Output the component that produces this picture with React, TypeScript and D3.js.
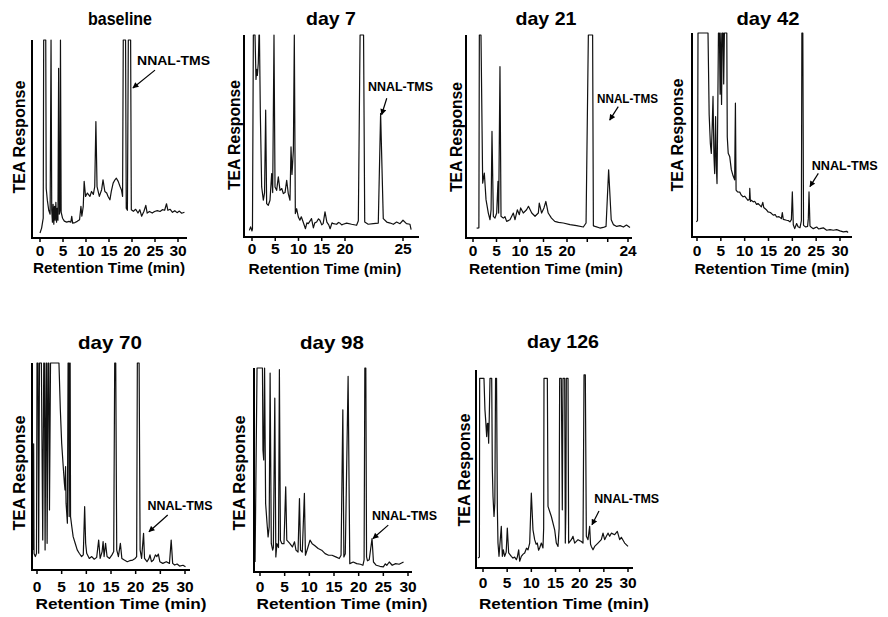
import React from "react";
import * as d3 from "d3";

type Pt = [number, number];

// [retention time (min), TEA response (% of panel height)]
const baselineTrace: Pt[] = [
  [0.0, 2.5], [0.35, 5], [0.7, 10], [0.8, 100], [1.25, 100], [1.35, 25], [1.6, 19], [1.9, 14], [2.2, 12],
  [2.4, 100], [2.55, 14], [2.7, 8], [2.85, 17], [3.0, 7], [3.15, 16], [3.3, 9], [3.45, 18], [3.6, 8],
  [3.75, 15], [3.9, 9], [4.05, 85.7], [4.2, 12], [4.35, 14], [4.45, 100], [4.6, 13], [4.9, 10], [5.3, 8.5],
  [5.8, 8], [6.3, 8.4], [6.7, 8], [6.9, 10.9], [7.1, 7.5], [7.6, 7.8], [8.1, 8.4], [8.6, 9.2], [8.9, 16],
  [9.1, 11], [9.4, 16], [9.6, 28.6], [9.9, 21], [10.3, 22.7], [10.85, 21], [11.2, 23.5], [11.6, 22],
  [11.9, 26], [12.15, 58.8], [12.4, 26], [12.9, 21], [13.4, 24.4], [13.7, 29.4], [14.1, 23.5], [14.5, 22.7],
  [14.8, 21], [15.2, 19.3], [15.5, 23.5], [15.9, 27.7], [16.3, 29.4], [16.6, 30.2], [17.0, 28.6], [17.4, 26],
  [17.7, 24.4], [17.95, 21], [18.1, 100], [18.6, 100], [18.75, 15], [19.0, 14], [19.2, 100], [19.7, 100],
  [19.85, 14.3], [20.3, 13.5], [20.8, 14.5], [21.3, 12.6], [21.7, 14.3], [22.1, 11], [22.6, 13.5], [23.0, 16.5],
  [23.3, 12.6], [23.8, 13.4], [24.4, 12.6], [24.9, 13.4], [25.5, 13.8], [26.1, 13.4], [26.6, 14.3], [27.1, 14],
  [27.5, 17.3], [27.8, 14], [28.3, 14.5], [28.8, 13], [29.3, 13.8], [29.8, 12.8], [30.3, 13.6], [30.8, 12.5],
  [31.4, 13],
];

const day7Trace: Pt[] = [
  [-0.57, 3.3], [-0.3, 5], [0.0, 3], [0.1, 4], [0.29, 100], [0.65, 100], [0.86, 78], [1.0, 83], [1.15, 80],
  [1.35, 86], [1.5, 100], [1.6, 100], [1.8, 60], [2.08, 24.8], [2.44, 18.2], [2.7, 22], [2.94, 62.8],
  [3.15, 16.5], [3.5, 15.7], [3.87, 18.2], [4.23, 31.4], [4.45, 22], [4.73, 100], [4.95, 24.8], [5.3, 23.1],
  [5.66, 29.8], [6.02, 23.1], [6.4, 24], [6.74, 21.5], [7.1, 22], [7.46, 28.1], [7.8, 21.5], [8.17, 18.2],
  [8.39, 44.6], [8.6, 31], [8.9, 43], [9.1, 100], [9.32, 11.6], [9.6, 14], [9.96, 9.9], [10.3, 8.3],
  [10.6, 10], [11.0, 7.4], [11.5, 4.1], [11.8, 7], [12.1, 6.6], [12.5, 8], [12.8, 9.1], [13.2, 4.5],
  [13.5, 7], [13.9, 7.4], [14.3, 9], [14.6, 8.3], [15.0, 6], [15.3, 6.6], [15.7, 12.4], [16.1, 7.4],
  [16.5, 6], [16.8, 4.1], [17.2, 7], [17.5, 6.6], [18.2, 6.3], [18.6, 7.2], [18.9, 6.9], [19.3, 6],
  [19.6, 6.3], [20.14, 6.9], [20.57, 6.3], [21.0, 5.8], [21.15, 8], [21.3, 100], [21.6, 100], [21.7, 7.4],
  [22.0, 6.3], [22.44, 6.6], [22.87, 6.9], [23.07, 61.2], [23.3, 9.1], [23.6, 7.4], [23.9, 6.9], [24.17, 6.3],
  [24.45, 7.4], [24.74, 6.6], [25.0, 8.3], [25.3, 6.6], [25.6, 6.3], [25.7, 3.6],
];

const day21Trace: Pt[] = [
  [0.78, 4.9], [1.25, 5], [1.35, 100], [1.7, 100], [2.06, 27], [2.41, 32], [2.77, 18.9], [3.26, 12.3],
  [3.62, 9], [3.85, 14], [4.04, 52.5], [4.33, 10.7], [4.68, 9.8], [5.04, 12.3], [5.32, 27.9], [5.46, 12.3],
  [5.74, 84.4], [5.96, 10.7], [6.45, 9.8], [6.8, 10.5], [7.16, 8.2], [7.87, 9], [8.58, 12.3], [8.94, 9],
  [9.43, 13.9], [9.86, 11.5], [10.14, 14.8], [10.7, 12.3], [11.4, 13.9], [11.8, 15.6], [12.5, 12.3],
  [13.2, 10.7], [13.9, 12.3], [14.1, 17.2], [14.6, 12.3], [15.1, 14.8], [15.5, 18], [16.0, 12.3], [16.7, 9.8],
  [17.4, 8.2], [18.2, 7.7], [19.2, 7.4], [20.2, 6.6], [20.63, 6.1], [21.07, 5.4], [21.25, 7.4], [21.4, 100],
  [21.68, 100], [21.73, 6], [21.84, 5.7], [22.16, 4.9], [22.38, 5.2], [22.56, 5.7], [22.73, 33.6], [22.9, 9],
  [23.04, 6.6], [23.26, 5.7], [23.48, 6.1], [23.7, 5.4], [23.9, 6.4], [24.13, 5.2],
];

const day42Trace: Pt[] = [
  [-0.14, 7.4], [0.1, 8], [0.21, 100], [2.31, 100], [2.55, 60], [2.8, 45.9], [3.0, 41], [3.2, 55],
  [3.36, 68.9], [3.55, 40], [3.71, 31.1], [3.9, 59], [4.05, 35], [4.2, 26.2], [4.35, 60], [4.5, 100],
  [4.7, 100], [4.85, 70], [5.0, 100], [5.15, 65], [5.3, 100], [5.5, 100], [5.6, 75], [5.75, 100], [6.25, 100],
  [6.35, 49], [6.55, 41], [6.87, 39.3], [7.2, 33], [7.57, 30], [7.9, 28], [8.06, 65.6], [8.2, 23], [8.5, 22.1],
  [8.97, 22], [9.3, 20.5], [9.67, 19.7], [10.0, 20], [10.37, 18.9], [10.7, 18], [11.0, 18.5], [11.07, 23.8],
  [11.2, 17.5], [11.4, 18], [11.8, 17.2], [12.1, 17.5], [12.5, 16], [12.8, 16.4], [13.2, 15.5], [13.5, 14.8],
  [13.8, 17], [14.0, 14.5], [14.5, 13.5], [14.9, 12.3], [15.4, 12], [16.0, 10.7], [16.4, 11], [16.7, 9.8],
  [17.2, 10], [17.7, 9], [17.9, 12], [18.1, 8.6], [18.8, 8.2], [19.2, 8], [19.5, 7.4], [19.8, 8.5],
  [20.0, 22.1], [20.2, 6], [20.5, 4.1], [20.9, 6.6], [21.2, 5], [21.6, 4.5], [21.9, 8], [22.0, 100],
  [22.2, 100], [22.35, 5.7], [22.8, 4.9], [23.2, 5.2], [23.35, 9], [23.5, 22.1], [23.7, 5.5], [23.9, 4.9],
  [24.4, 4.1], [25.1, 4.9], [25.5, 4], [25.8, 4.1], [26.5, 4.5], [27.2, 3.3], [27.9, 3.6], [28.6, 3.3],
  [29.3, 3.6], [30.0, 3], [30.7, 2.5], [31.4, 2.8], [31.7, 2.2],
];

const day70Trace: Pt[] = [
  [-0.75, 9.7], [-0.68, 61], [-0.6, 8], [-0.34, 6.5], [-0.1, 8], [0.0, 100], [0.2, 100], [0.34, 8.1],
  [0.5, 100], [0.89, 100], [1.16, 14.5], [1.37, 100], [1.5, 100], [1.64, 9.7], [1.85, 100], [1.95, 100],
  [2.05, 12.9], [2.26, 100], [2.4, 100], [2.53, 29], [2.74, 100], [4.45, 100], [4.73, 77.4], [5.0, 61.3],
  [5.27, 51.6], [5.55, 41.9], [5.68, 38.7], [5.79, 50], [5.89, 32.3], [6.16, 22.6], [6.3, 100], [6.44, 100],
  [6.52, 25.8], [6.64, 100], [6.72, 100], [6.8, 25.8], [7.05, 21], [7.33, 16.1], [7.74, 12.9], [8.15, 9.7],
  [8.56, 8.1], [9.04, 6.5], [9.38, 7.3], [9.66, 30.6], [9.86, 12.9], [10.07, 8.1], [10.6, 5.6], [11.1, 6.5],
  [11.6, 5.2], [12.1, 6.1], [12.5, 14.5], [12.8, 5.6], [13.2, 8.9], [13.4, 13.7], [13.6, 6.5], [13.9, 12.9],
  [14.2, 6.5], [14.7, 5.6], [15.2, 7.3], [15.55, 8.9], [15.75, 100], [15.96, 100], [16.16, 9.7], [16.5, 6.5],
  [16.9, 12.9], [17.2, 5.6], [17.7, 4.8], [18.3, 4], [18.8, 4.5], [19.4, 4.8], [19.9, 5.6], [20.2, 6.5],
  [20.34, 100], [20.7, 100], [20.9, 9.7], [21.2, 5.6], [21.6, 17.7], [21.8, 5.6], [22.3, 4], [22.7, 5.6],
  [22.9, 7.3], [23.2, 4], [23.6, 4.8], [24.0, 7.3], [24.3, 6.5], [24.6, 7.7], [24.9, 4], [25.5, 3.2],
  [26.2, 4], [26.85, 3.2], [27.2, 14.5], [27.5, 3.2], [27.9, 2.4], [28.4, 2.9], [28.9, 1.9], [29.6, 2.3],
  [30.1, 1.6],
];

const day98Trace: Pt[] = [
  [-1.0, 4.9], [-0.6, 100], [0.5, 100], [0.6, 59.8], [0.75, 54.9], [0.93, 100], [1.14, 33.6], [1.43, 23.8],
  [1.64, 17.2], [1.86, 22.1], [2.05, 97.5], [2.29, 13.9], [2.57, 10.7], [2.71, 12], [3.0, 85.2], [3.21, 7.4],
  [3.43, 13.9], [3.75, 12], [3.93, 99.2], [4.14, 15.6], [4.43, 13.9], [4.86, 13.9], [5.21, 41.8], [5.43, 15.6],
  [6.07, 13.9], [6.57, 12.3], [7.0, 14.8], [7.29, 10.7], [7.71, 9.8], [8.0, 36], [8.21, 10.7], [8.57, 9.8],
  [9.0, 38.5], [9.21, 8.2], [9.64, 11.5], [10.14, 15.6], [10.57, 13.9], [11.07, 13], [11.79, 11.5],
  [12.5, 10.7], [13.2, 9], [13.9, 8.2], [14.6, 8.2], [15.36, 7.4], [16.07, 6.6], [16.43, 8.2], [16.79, 79.5],
  [17.0, 7.4], [17.29, 9], [17.86, 95.9], [18.2, 4.1], [18.9, 4.9], [19.6, 4.1], [20.36, 3.8], [20.86, 3.3],
  [21.1, 6], [21.25, 100], [21.45, 100], [21.6, 7.4], [21.79, 5.5], [22.14, 6], [22.71, 16.4], [23.0, 4.9],
  [23.57, 3.3], [24.29, 2.8], [25.0, 2.5], [25.4, 4], [25.7, 3.3], [26.2, 4.9], [26.8, 3.3], [27.5, 4.1],
  [28.2, 3.8], [29.1, 4.9],
];

const day126Trace: Pt[] = [
  [-1.03, 5], [-0.75, 5.5], [-0.69, 95.8], [0.2, 95.8], [0.4, 80], [0.55, 74.8], [0.76, 66.4], [0.9, 73],
  [1.03, 73.1], [1.17, 63], [1.3, 76.5], [1.45, 95.8], [1.8, 95.8], [1.93, 50], [2.07, 36.1], [2.28, 26],
  [2.45, 32.8], [2.6, 95.8], [2.8, 95.8], [2.97, 30], [3.1, 12.6], [3.31, 5.9], [3.52, 12.6], [3.79, 21],
  [4.0, 5.9], [4.21, 9.2], [4.48, 5.9], [4.8, 8], [5.03, 20.2], [5.31, 7.6], [5.86, 5.9], [6.2, 5],
  [6.55, 5.5], [6.9, 4.2], [7.1, 5.5], [7.38, 9.2], [7.59, 3.4], [7.93, 5.9], [8.3, 7], [8.62, 7.6], [9.0, 10],
  [9.31, 9.2], [9.66, 12.6], [10.0, 37.8], [10.34, 19.3], [10.69, 14.3], [11.0, 12], [11.24, 12.6], [11.5, 9],
  [11.72, 10.1], [12.07, 12.6], [12.41, 10.1], [12.55, 20], [12.62, 95.8], [13.31, 95.8], [13.45, 31.1],
  [14.14, 26], [14.83, 19.3], [15.17, 12.6], [15.52, 10.9], [15.75, 20], [15.86, 95.8], [16.2, 95.8],
  [16.41, 29.4], [16.55, 95.8], [16.9, 95.8], [17.03, 12.6], [17.15, 30], [17.24, 95.8], [17.59, 95.8],
  [17.72, 12.6], [18.28, 14.3], [18.62, 16], [18.97, 12.6], [19.66, 14.3], [20.34, 13.4], [20.69, 12.6],
  [20.9, 97.5], [21.17, 97.5], [21.38, 16], [21.72, 14.3], [22.07, 21], [22.25, 12], [22.41, 10.9],
  [22.76, 9.2], [23.1, 10.9], [23.79, 12.6], [24.48, 14.3], [24.83, 17.6], [25.17, 14.3], [25.52, 16],
  [25.86, 17.6], [26.21, 16], [26.55, 17.6], [27.24, 16.8], [27.79, 18.5], [28.28, 14.3], [28.62, 15.5],
  [29.31, 12.6], [30.0, 10.9],
];

const panelTitles = ["baseline", "day 7", "day 21", "day 42", "day 70", "day 98", "day 126"];
const traces = [baselineTrace, day7Trace, day21Trace, day42Trace, day70Trace, day98Trace, day126Trace];
const fullTicks = [0, 5, 10, 15, 20, 25, 30];
const day7Ticks = [0, 5, 10, 15, 20, 25];
const day21Ticks = [0, 5, 10, 15, 20, 21.33, 22.67, 24];
const day21Labels = [0, 5, 10, 15, 20, 24];
const nnalLabel = "NNAL-TMS";
const xAxisTitle = "Retention Time (min)";
const yAxisTitle = "TEA Response";

// layout (pixels) and annotation anchors (data units)
type Layout = {
  x0: number; xEnd: number; yTop: number; yBot: number;
  dom: number[]; rng: number[]; ticks: number[]; labels: number[];
  tickY: number; ax: [number, number, number]; yl: [number, number, number];
  ti: [number, number, number];
  note: { at: Pt; from: Pt; to: Pt; len: number };
};

const layouts: Layout[] = [
  { x0: 32, xEnd: 187, yTop: 40, yBot: 238, dom: [0, 30], rng: [40, 178], ticks: fullTicks, labels: fullTicks,
    tickY: 256, ax: [109, 273, 152], yl: [25, 137, 113], ti: [120, 25, 64],
    note: { at: [21.1, 87.4], from: [25.0, 84.8], to: [20.2, 75.8], len: 73 } },
  { x0: 244, xEnd: 419, yTop: 35, yBot: 237, dom: [0, 20, 25], rng: [252, 345, 403], ticks: day7Ticks, labels: day7Ticks,
    tickY: 254, ax: [325, 274, 153], yl: [240, 135, 110], ti: [331, 25, 50],
    note: { at: [21.98, 72.3], from: [23.6, 68.7], to: [23.16, 60.6], len: 65 } },
  { x0: 466, xEnd: 632, yTop: 35, yBot: 238, dom: [0, 20, 24], rng: [473, 567, 628], ticks: day21Ticks, labels: day21Labels,
    tickY: 256, ax: [546, 274, 154], yl: [462, 137, 110], ti: [546, 25, 61],
    note: { at: [21.97, 66.5], from: [23.36, 64.7], to: [22.8, 58.1], len: 61 } },
  { x0: 692, xEnd: 852, yTop: 33, yBot: 237, dom: [0, 30], rng: [697, 840], ticks: fullTicks, labels: fullTicks,
    tickY: 256, ax: [772, 274, 155], yl: [683, 135, 113], ti: [768, 25, 63],
    note: { at: [24.06, 32.8], from: [25.45, 31.2], to: [23.7, 24.7], len: 66 } },
  { x0: 32, xEnd: 190, yTop: 363, yBot: 570, dom: [0, 30], rng: [37, 185], ticks: fullTicks, labels: fullTicks,
    tickY: 592, ax: [121, 609, 171], yl: [25, 473, 115], ti: [110, 349, 64],
    note: { at: [22.4, 29], from: [26.5, 26.6], to: [22.7, 18.5], len: 65 } },
  { x0: 254, xEnd: 412, yTop: 368, yBot: 572, dom: [0, 30], rng: [260, 408], ticks: fullTicks, labels: fullTicks,
    tickY: 592, ax: [342, 609, 171], yl: [245, 473, 115], ti: [332, 349, 64],
    note: { at: [22.7, 25.4], from: [26.0, 23], to: [22.9, 16.4], len: 65 } },
  { x0: 476, xEnd: 633, yTop: 370, yBot: 568, dom: [0, 30], rng: [483, 628], ticks: fullTicks, labels: fullTicks,
    tickY: 588, ax: [564, 609, 170], yl: [470, 470, 113], ti: [563, 348, 72],
    note: { at: [23.0, 33], from: [24.0, 28.8], to: [22.55, 21.8], len: 65 } },
];

function Chromatogram({ idx }: { idx: number }) {
  const L = layouts[idx];
  const data = traces[idx];
  const x = d3.scaleLinear().domain(L.dom).range(L.rng);
  const y = d3.scaleLinear().domain([0, 100]).range([L.yBot, L.yTop]);
  const line = d3.line<Pt>().x((d) => x(d[0])).y((d) => y(d[1]));
  const n = L.note;
  return (
    <g>
      <path d={line(data) || ""} fill="none" stroke="#111" strokeWidth={1.2} strokeLinejoin="round" />
      <line x1={L.x0} x2={L.x0} y1={L.yTop} y2={L.yBot} stroke="#000" strokeWidth={2} />
      <line x1={L.x0 - 1} x2={L.xEnd} y1={L.yBot} y2={L.yBot} stroke="#000" strokeWidth={2} />
      {L.ticks.map((t) => (
        <line key={t} x1={x(t)} x2={x(t)} y1={L.yBot} y2={L.yBot + 4} stroke="#000" strokeWidth={1.5} />
      ))}
      {L.labels.map((t) => (
        <text key={t} x={x(t)} y={L.tickY} textAnchor="middle" fontSize={15.5}>{t}</text>
      ))}
      <text x={L.ax[0]} y={L.ax[1]} textAnchor="middle" fontSize={15} textLength={L.ax[2]} lengthAdjust="spacingAndGlyphs">
        {xAxisTitle}
      </text>
      <text transform={`translate(${L.yl[0]},${L.yl[1]}) rotate(-90)`} textAnchor="middle" fontSize={16}
        textLength={L.yl[2]} lengthAdjust="spacingAndGlyphs">
        {yAxisTitle}
      </text>
      <text x={L.ti[0]} y={L.ti[1]} textAnchor="middle" fontSize={18.5} textLength={L.ti[2]} lengthAdjust="spacingAndGlyphs">
        {panelTitles[idx]}
      </text>
      <text x={x(n.at[0])} y={y(n.at[1])} fontSize={12.5} textLength={n.len} lengthAdjust="spacingAndGlyphs">
        {nnalLabel}
      </text>
      <line x1={x(n.from[0])} y1={y(n.from[1])} x2={x(n.to[0])} y2={y(n.to[1])} stroke="#000" strokeWidth={1.2}
        markerEnd="url(#arrowHead)" />
    </g>
  );
}

export default function App() {
  return (
    <svg width={888} height={617} style={{ position: "absolute", left: 0, top: 0, background: "#fff" }}
      fontFamily="'Liberation Sans', Arial, Helvetica, sans-serif" fontWeight="bold">
      <defs>
        <marker id="arrowHead" viewBox="0 0 10 10" refX={9} refY={5} markerWidth={7} markerHeight={6}
          orient="auto" markerUnits="userSpaceOnUse">
          <path d="M0,0 L10,5 L0,10 z" fill="#000" />
        </marker>
      </defs>
      <rect width={888} height={617} fill="#fff" />
      {layouts.map((_, i) => (
        <Chromatogram key={i} idx={i} />
      ))}
    </svg>
  );
}
